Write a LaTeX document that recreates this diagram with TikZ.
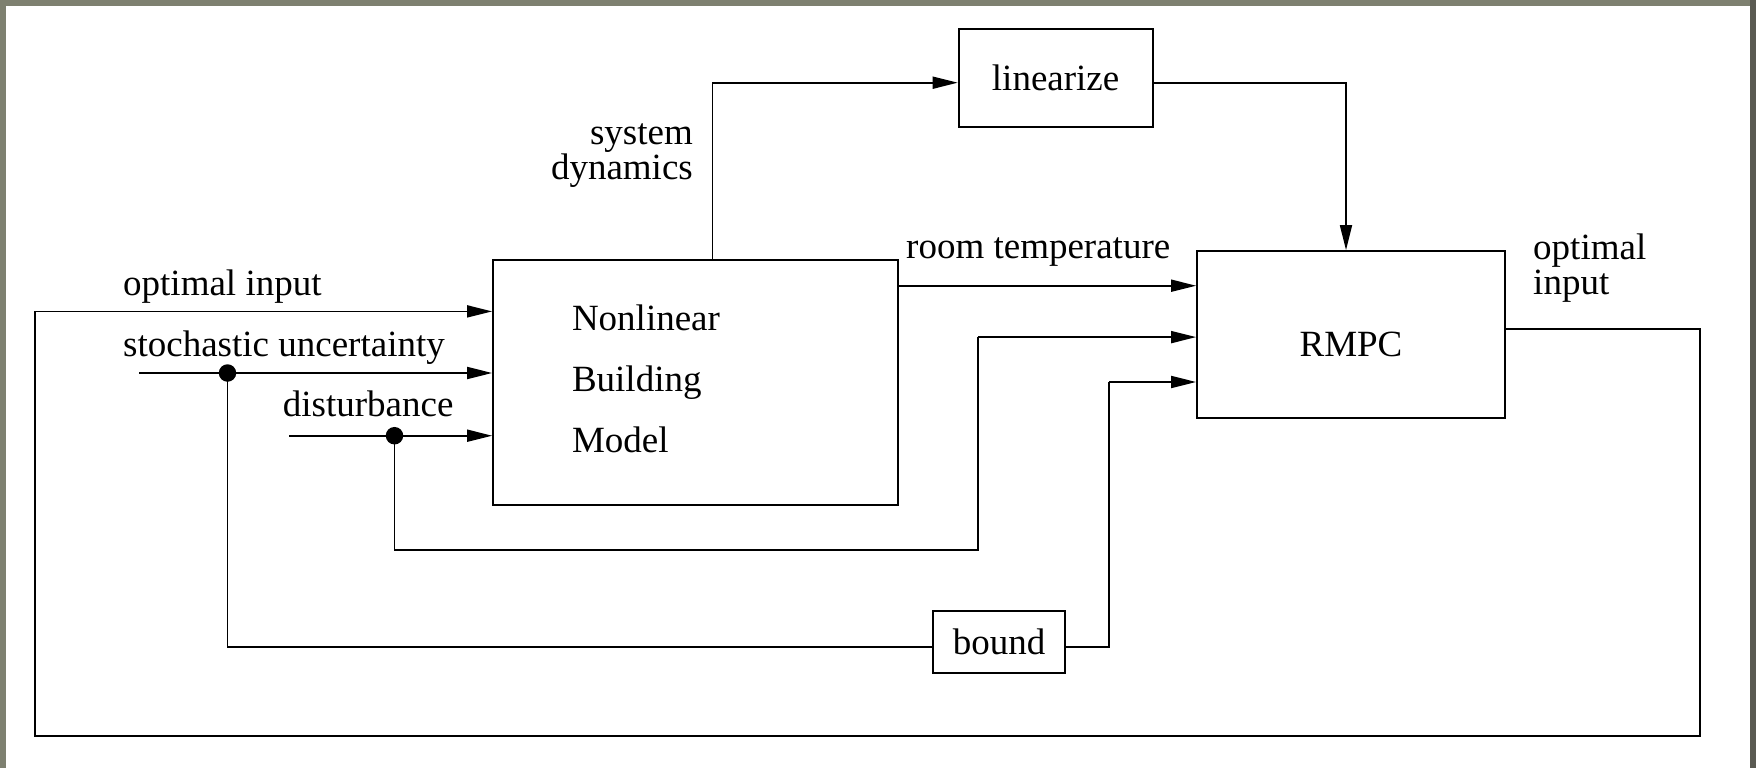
\documentclass[tikz,border=0pt]{standalone}
\usepackage{fontspec}
\setmainfont{Liberation Serif}
\usetikzlibrary{arrows.meta}
\definecolor{frameA}{HTML}{7E8070}
\definecolor{frameB}{HTML}{5A5A52}
\begin{document}
\begin{tikzpicture}[x=1pt,y=-1pt,
  every node/.style={font=\fontsize{37}{35}\selectfont},
  box/.style={draw, line width=1.8pt, inner sep=0pt},
  wire/.style={line width=1.8pt},
  arr/.style={wire, -{Triangle[length=25pt,width=12pt]}},
  lbl/.style={inner sep=0pt},
  junction/.style={circle, fill=black, inner sep=0pt, minimum size=17.5pt}]
\useasboundingbox (0,0) rectangle (1756,768);
\fill[frameA] (0,0) rectangle (1756,768);
\fill[frameB] (1750,0) rectangle (1756,768);
\fill[white] (6,6) rectangle (1750,768);

% blocks
\node[box, minimum width=405pt, minimum height=245pt, align=left, text width=247pt,
      font=\fontsize{37}{61}\selectfont] (nbm) at (695.5,382.5) {Nonlinear\\Building\\Model\rule[-6.8pt]{0pt}{0pt}};
\node[box, minimum width=194pt, minimum height=97.5pt] (lin) at (1055.6,77.9) {linearize};
\node[box, minimum width=308pt, minimum height=167pt, text height=43pt, text depth=0pt] (rmpc) at (1351,334.5) {RMPC};
\node[box, minimum width=132pt, minimum height=62pt] (bound) at (999,642.3) {bound};

% labels
\node[lbl, anchor=base west] (l1) at (123,295.7) {optimal input};
\node[lbl, anchor=base west] (l2) at (123,356) {stochastic uncertainty};
\node[lbl, anchor=base west] (l3) at (282.7,416.7) {disturbance};
\node[lbl, anchor=base east, align=right] (l4) at (693,179) {system\\dynamics};
\node[lbl, anchor=base west, align=left] (l5) at (906,258) {room temperature};
\node[lbl, anchor=base west, align=left] (l6) at (1533,294) {optimal\\input};

% coordinates
\coordinate (sd) at (712.5,82.7);
\coordinate (lr) at (1346,82.7);
\coordinate (rt) at (906,285.7);
\coordinate (ss) at (139,373);
\coordinate (ds) at (289,435.7);
\coordinate (dcorner) at (977.8,550);
\coordinate (din) at (977.8,337.1);
\coordinate (bl) at (900,647);
\coordinate (bc) at (1109,382);
\coordinate (fbout) at (1600,329);
\coordinate (fb1) at (1700,735.8);
\coordinate (fb2) at (34.7,311.4);

\node[junction] (sdot) at (227.5,373) {};
\node[junction] (ddot) at (394.5,435.7) {};

% connectors
\draw[arr] (nbm.north -| sd) |- (lin.west |- sd);
\draw[arr] (lin.east |- sd) -| (rmpc.north -| lr);
\draw[arr] (nbm.east |- rt) -- (rmpc.west |- rt);
\draw[arr] (ss) -- (nbm.west |- ss);
\draw[arr] (ds) -- (nbm.west |- ds);
\draw[wire] (ddot.center) |- (dcorner) -- (din);
\draw[arr] (din) -- (rmpc.west |- din);
\draw[wire] (sdot.center) |- (bound.west |- bl);
\draw[wire] (bound.east |- bl) -| (bc);
\draw[arr] (bc) -- (rmpc.west |- bc);
\draw[wire] (rmpc.east |- fbout) -| (fb1) -| (fb2);
\draw[arr] (fb2) -- (nbm.west |- fb2);
\end{tikzpicture}
\end{document}
